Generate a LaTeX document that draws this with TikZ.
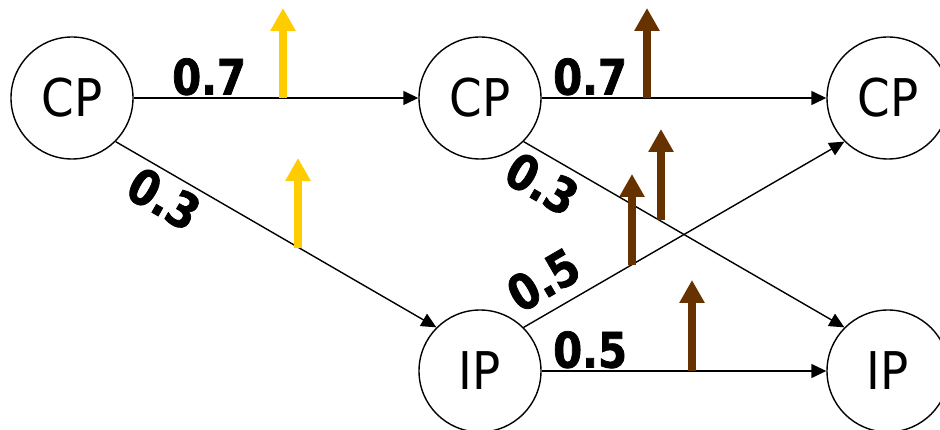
\documentclass[tikz,border=0pt]{standalone}
\usepackage{fontspec}
\usetikzlibrary{arrows.meta}
\newfontfamily\statefont{DejaVu Sans}[FakeStretch=0.9]
\newfontfamily\probfont{DejaVu Sans Bold}[FakeStretch=0.85,FakeBold=1.5]
\definecolor{gainyellow}{HTML}{FFCC00}
\definecolor{gainbrown}{HTML}{663300}
\tikzset{
  state/.style={circle,draw,line width=1.4pt,minimum size=122pt,inner sep=0pt,
    font=\statefont\fontsize{52}{52}\selectfont},
  link/.style={line width=1.4pt,-{Triangle[length=15pt,width=14pt]}},
  prob/.style={font=\probfont\fontsize{49}{49}\selectfont,inner sep=2pt},
  gain/.style={line width=8pt,-{Triangle[length=23pt,width=24pt]}}
}

\begin{document}
\begin{tikzpicture}[x=1pt,y=-1pt]
  \useasboundingbox (0,0) rectangle (940,430);
  \node[state] (cp1) at (72,98) {CP};
  \node[state] (cp2) at (480,98) {CP};
  \node[state] (cp3) at (888,98) {CP};
  \node[state] (ip1) at (480,371) {IP};
  \node[state] (ip2) at (888,371) {IP};

  \draw[link] (cp1) -- node[prob,pos=.265,above]{0.7} (cp2);
  \draw[link] (cp1.south east) -- node[prob,pos=.19,below=4pt,sloped]{0.3} (ip1.north west);
  \draw[link] (cp2) -- node[prob,pos=.17,above]{0.7} (cp3);
  \draw[link] (cp2.south east) -- node[prob,pos=.1,below=6pt,sloped]{0.3} (ip2.north west);
  \draw[link] (ip1.north east) -- node[prob,pos=.11,above=10pt,sloped]{0.5} (cp3.south west);
  \draw[link] (ip1) -- node[prob,pos=.17,above]{0.5} (ip2);

  % upward gain arrows
  \foreach \x/\ya/\yb in {283/98/8, 298/248/158}
    \draw[gain,gainyellow] (\x,\ya) -- (\x,\yb);
  \foreach \x/\ya/\yb in {647/98/8, 661/220/129, 632/265/174, 692/371/280}
    \draw[gain,gainbrown] (\x,\ya) -- (\x,\yb);
\end{tikzpicture}
\end{document}
